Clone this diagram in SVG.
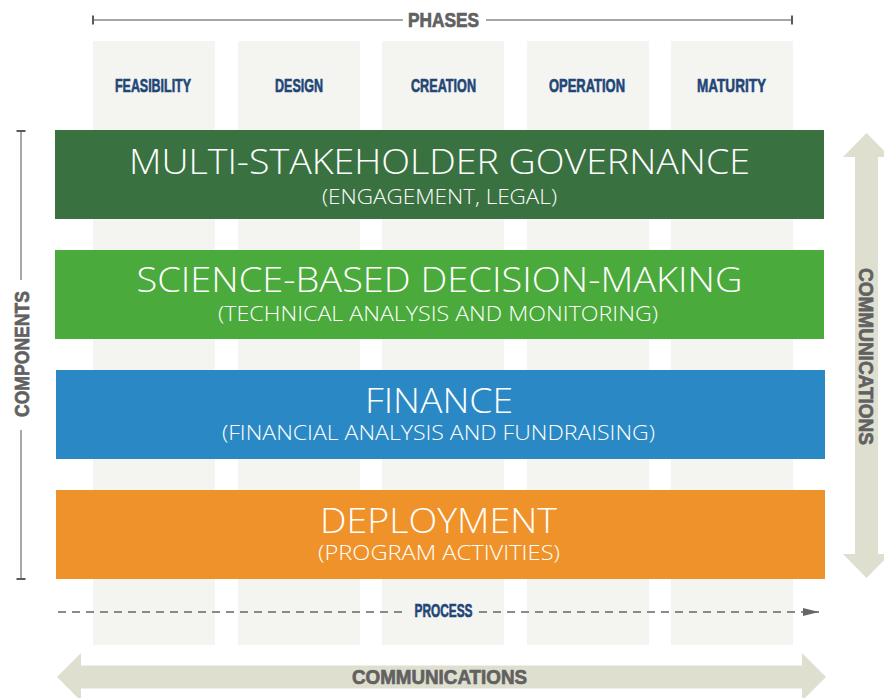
<svg xmlns="http://www.w3.org/2000/svg" width="884" height="698" viewBox="0 0 884 698">
<defs>
<style>
.col{fill:#f4f4f0}
.ph{font-family:"Liberation Sans Narrow","Liberation Sans",Arial,sans-serif;font-weight:bold;font-size:18px;fill:#1f4677;stroke:#1f4677;stroke-width:0.6;text-anchor:middle}
.gl{font-family:"Liberation Sans Narrow","Liberation Sans",Arial,sans-serif;font-weight:bold;fill:#616161;stroke:#616161;stroke-width:0.7;text-anchor:middle}
.tt{font-family:"Open Sans","Noto Sans","Liberation Sans",sans-serif;font-weight:300;fill:#ffffff;text-anchor:middle}
.t1{font-size:35px}
.t2{font-size:20px}
.arr{fill:#dfdfcf}
.rule{stroke:#8a8a8a;stroke-width:1.6;fill:none}
.tick{stroke:#5a5a5a;stroke-width:2;fill:none}
.vrule{stroke:#a8a8a8;stroke-width:2;fill:none}
</style>
<marker id="ah" viewBox="0 0 16 8" refX="16" refY="4" markerWidth="16" markerHeight="8" markerUnits="userSpaceOnUse" orient="auto">
<path d="M0,0 L16,4 L0,8 Z" fill="#666666"/>
</marker>
</defs>
<rect width="884" height="698" fill="#ffffff"/>
<g id="columns">
<rect class="col" x="93" y="41" width="122" height="604"/>
<rect class="col" x="238" y="41" width="122" height="604"/>
<rect class="col" x="382" y="41" width="122" height="604"/>
<rect class="col" x="527" y="41" width="122" height="604"/>
<rect class="col" x="671" y="41" width="122" height="604"/>
</g>
<g id="phases-header">
<line class="rule" x1="93" y1="20" x2="403" y2="20"/>
<line class="rule" x1="486" y1="20" x2="792" y2="20"/>
<line class="tick" x1="93" y1="15.5" x2="93" y2="24.5"/>
<line class="tick" x1="792" y1="15.5" x2="792" y2="24.5"/>
<text class="gl" x="443.5" y="27" font-size="20" textLength="71" lengthAdjust="spacingAndGlyphs">PHASES</text>
</g>
<g id="phase-labels">
<text class="ph" x="153" y="92" textLength="76" lengthAdjust="spacingAndGlyphs">FEASIBILITY</text>
<text class="ph" x="299" y="92" textLength="48" lengthAdjust="spacingAndGlyphs">DESIGN</text>
<text class="ph" x="443.5" y="92" textLength="65" lengthAdjust="spacingAndGlyphs">CREATION</text>
<text class="ph" x="587" y="92" textLength="76" lengthAdjust="spacingAndGlyphs">OPERATION</text>
<text class="ph" x="731.5" y="92" textLength="69" lengthAdjust="spacingAndGlyphs">MATURITY</text>
</g>
<g id="governance">
<rect x="55" y="130" width="769" height="89" fill="#3a7140"/>
<text class="tt t1" x="439.5" y="174" textLength="621" lengthAdjust="spacingAndGlyphs">MULTI-STAKEHOLDER GOVERNANCE</text>
<text class="tt t2" x="439.5" y="204" textLength="235" lengthAdjust="spacingAndGlyphs">(ENGAGEMENT, LEGAL)</text>
</g>
<g id="science">
<rect x="55" y="250" width="769" height="89" fill="#4aaa3b"/>
<text class="tt t1" x="439.5" y="292" textLength="606" lengthAdjust="spacingAndGlyphs">SCIENCE-BASED DECISION-MAKING</text>
<text class="tt t2" x="438" y="321" textLength="440" lengthAdjust="spacingAndGlyphs">(TECHNICAL ANALYSIS AND MONITORING)</text>
</g>
<g id="finance">
<rect x="56" y="370" width="769" height="89" fill="#2a89c5"/>
<text class="tt t1" x="439" y="413" textLength="148" lengthAdjust="spacingAndGlyphs">FINANCE</text>
<text class="tt t2" x="438.5" y="440" textLength="433" lengthAdjust="spacingAndGlyphs">(FINANCIAL ANALYSIS AND FUNDRAISING)</text>
</g>
<g id="deployment">
<rect x="56" y="490" width="769" height="89" fill="#f0922a"/>
<text class="tt t1" x="438.5" y="533" textLength="237" lengthAdjust="spacingAndGlyphs">DEPLOYMENT</text>
<text class="tt t2" x="439" y="560" textLength="242" lengthAdjust="spacingAndGlyphs">(PROGRAM ACTIVITIES)</text>
</g>
<g id="components-axis">
<line class="vrule" x1="21" y1="131" x2="21" y2="280"/>
<line class="vrule" x1="21" y1="430" x2="21" y2="579"/>
<line class="tick" x1="16.5" y1="131" x2="25.5" y2="131"/>
<line class="tick" x1="16.5" y1="579" x2="25.5" y2="579"/>
<text class="gl" transform="translate(29,354) rotate(-90)" x="0" y="0" font-size="21" textLength="126" lengthAdjust="spacingAndGlyphs">COMPONENTS</text>
</g>
<g id="communications-vertical">
<polygon class="arr" points="866.5,133 890,157 878,157 878,554 890,554 866.5,578 843,554 855,554 855,157 843,157"/>
<text class="gl" transform="translate(859,356.5) rotate(90)" x="0" y="0" font-size="20" textLength="177" lengthAdjust="spacingAndGlyphs">COMMUNICATIONS</text>
</g>
<g id="communications-horizontal">
<polygon class="arr" points="57,677 81,653 81,665.5 802,665.5 802,653 826,677 802,701 802,688.5 81,688.5 81,701"/>
<text class="gl" x="439.5" y="684" font-size="20" textLength="175" lengthAdjust="spacingAndGlyphs">COMMUNICATIONS</text>
</g>
<g id="connectors">
<line x1="58" y1="612" x2="402" y2="612" stroke="#666666" stroke-width="1.5" stroke-dasharray="8 6"/>
<line x1="479" y1="612" x2="819" y2="612" stroke="#666666" stroke-width="1.5" stroke-dasharray="8 6" marker-end="url(#ah)"/>
</g>
<g id="process">
<text class="ph" x="443.5" y="617" font-size="15" textLength="58" lengthAdjust="spacingAndGlyphs">PROCESS</text>
</g>
</svg>
